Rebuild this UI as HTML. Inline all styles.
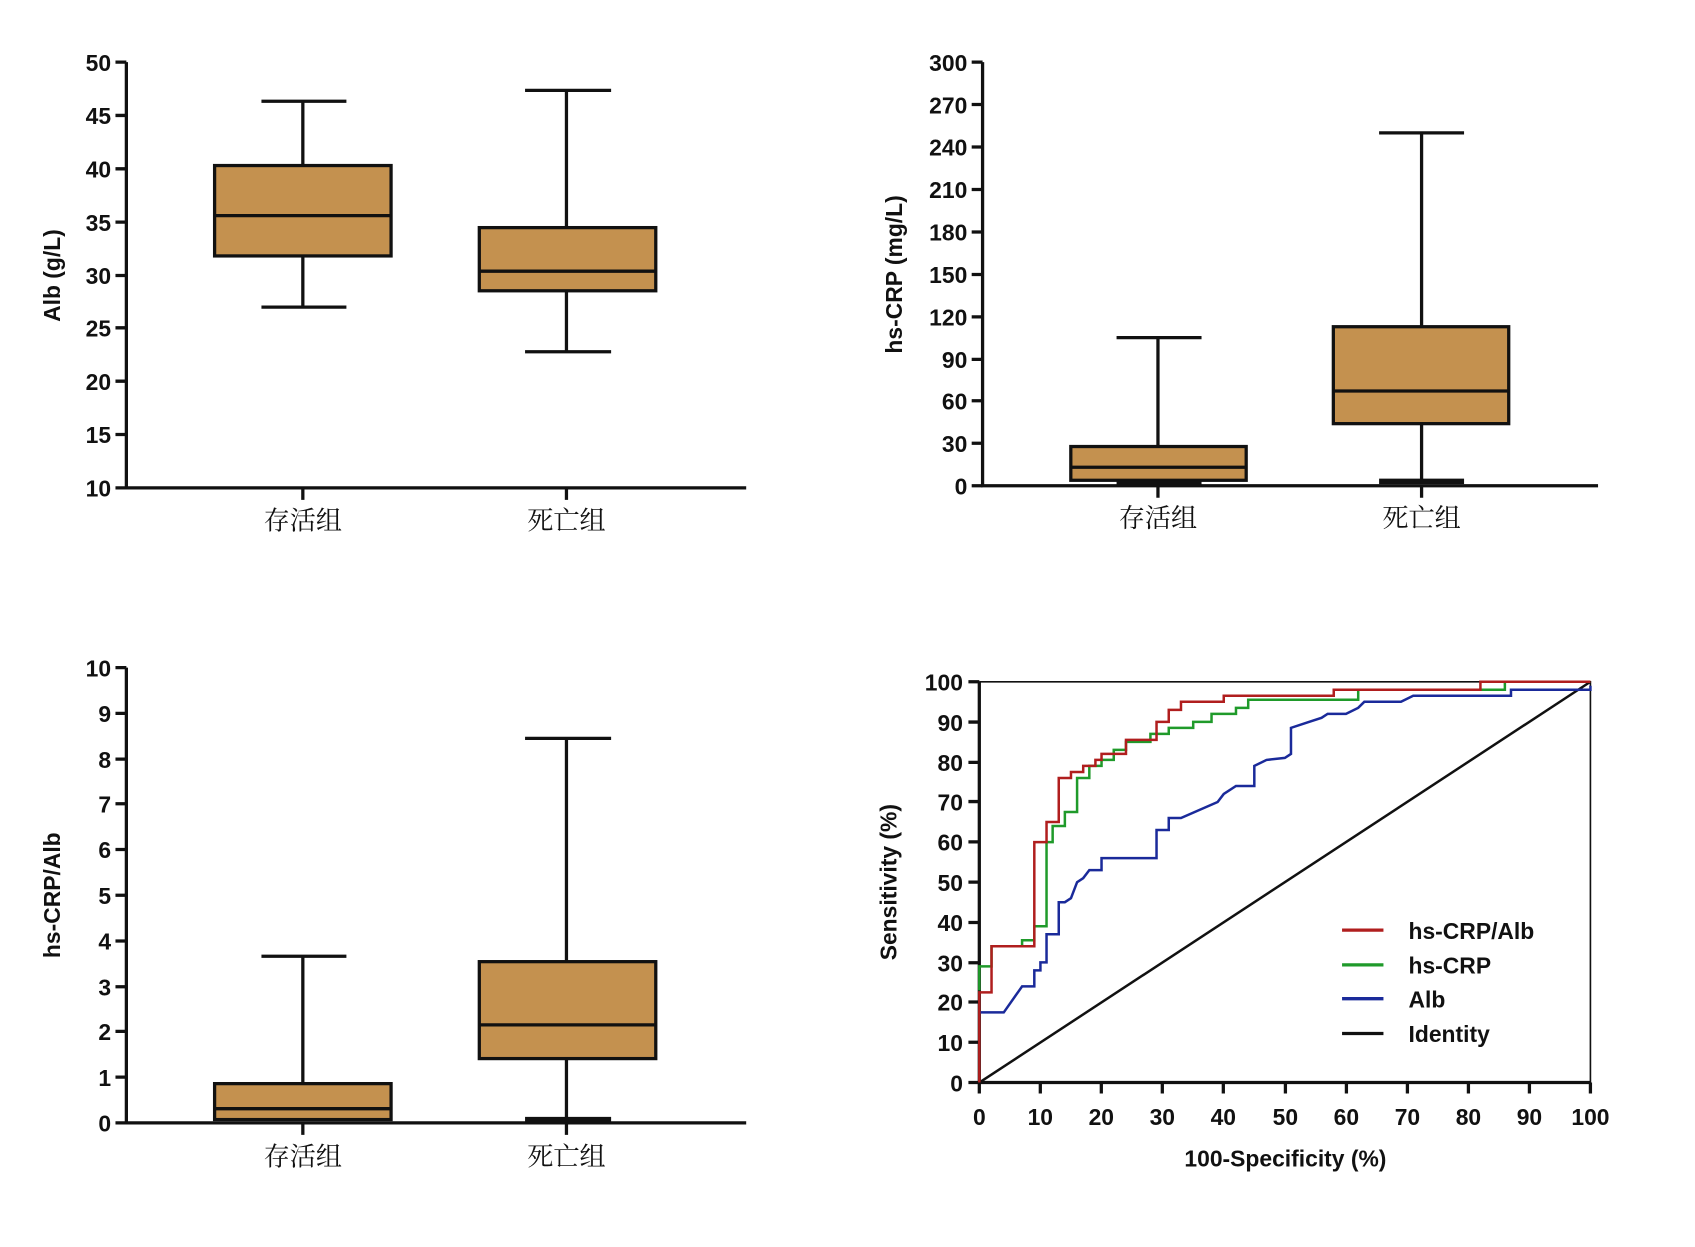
<!DOCTYPE html>
<html><head><meta charset="utf-8"><style>
html,body{margin:0;padding:0;background:#fff;}
svg{display:block;}
.t{font-family:"Liberation Sans",Arial,sans-serif;font-weight:bold;font-size:21px;fill:#111;}
.c{font-family:"Liberation Serif","Noto Serif CJK SC",serif;font-size:24px;fill:#111;}
</style></head><body>
<svg width="1695" height="1247" viewBox="0 0 1556 1145" preserveAspectRatio="none" xmlns="http://www.w3.org/2000/svg">
<rect width="1556" height="1145" fill="#fff"/>
<g stroke="#111" stroke-width="3" fill="none">
<!-- Panel 1 -->
<path d="M116,57V448H685"/>
<path d="M106,57H116M106,106H116M106,155H116M106,204H116M106,253H116M106,301H116M106,350H116M106,399H116M106,448H116"/>
<path d="M278,448V459M520,448V459"/>
<path d="M278,93V152M278,235V282M240,93H318M240,282H318"/>
<rect x="197" y="152" width="162" height="83" fill="#c4914f"/><path d="M197,198H359"/>
<path d="M520,83V209M520,267V323M482,83H561M482,323H561"/>
<rect x="440" y="209" width="162" height="58" fill="#c4914f"/><path d="M440,249H602"/>
<!-- Panel 2 -->
<path d="M902,57V446H1467"/>
<path d="M892,57H902M892,96H902M892,135H902M892,174H902M892,213H902M892,252H902M892,291H902M892,330H902M892,368H902M892,407H902M892,446H902"/>
<path d="M1063,446V457M1305,446V457"/>
<path d="M1063,310V410M1025,310H1103"/>
<rect x="983" y="410" width="161" height="31" fill="#c4914f"/><path d="M983,429H1144"/>
<path d="M1025,444H1103" stroke-width="5"/>
<path d="M1305,122V300M1305,389V442M1266,122H1344"/>
<path d="M1266,442H1344" stroke-width="5"/>
<rect x="1224" y="300" width="161" height="89" fill="#c4914f"/><path d="M1224,359H1385"/>
<!-- Panel 3 -->
<path d="M116,613V1031H685"/>
<path d="M106,613H116M106,655H116M106,697H116M106,738H116M106,780H116M106,822H116M106,864H116M106,906H116M106,947H116M106,989H116M106,1031H116"/>
<path d="M278,1031V1042M520,1031V1042"/>
<path d="M278,878V995M240,878H318"/>
<rect x="197" y="995" width="162" height="33" fill="#c4914f"/><path d="M197,1018H359"/>
<path d="M520,678V883M520,972V1027M482,678H561"/>
<path d="M482,1028H561" stroke-width="5"/>
<rect x="440" y="883" width="162" height="89" fill="#c4914f"/><path d="M440,941H602"/>
<!-- Panel 4 -->
<path d="M899,626V994H1460"/>
<path d="M899,626H1460V994" stroke-width="1.5"/>
<path d="M889,626H899M889,663H899M889,700H899M889,736H899M889,773H899M889,810H899M889,847H899M889,884H899M889,920H899M889,957H899M889,994H899"/>
<path d="M899,994V1004M955,994V1004M1011,994V1004M1067,994V1004M1123,994V1004M1180,994V1004M1236,994V1004M1292,994V1004M1348,994V1004M1404,994V1004M1460,994V1004"/>
</g>
<g transform="translate(899,994) scale(5.61,-3.68)" fill="none" stroke-width="2.5">
<polyline vector-effect="non-scaling-stroke" stroke="#111" points="0,0 100,100"/>
<polyline vector-effect="non-scaling-stroke" stroke="#1a2a9a" points="0,17.5 4,17.5 7,24 9,24 9,28 10,28 10,30 11,30 11,37 13,37 13,45 14,45 15,46 16,50 17,51 18,53 20,53 20,56 29,56 29,63 31,63 31,66 33,66 36,68 39,70 40,72 42,74 45,74 45,79 47,80.5 50,81 51,82 51,88.5 54,90 56,91 57,92 60,92 62,93.5 63,95 69,95 71,96.5 87,96.5 87,98 100,98 100,99"/>
<polyline vector-effect="non-scaling-stroke" stroke="#1f9a2a" points="0,23 0,29 2,29 2,34 7,34 7,35.5 9,35.5 9,39 11,39 11,60 12,60 12,64 14,64 14,67.5 16,67.5 16,76 18,76 18,79 20,79 20,80.5 22,80.5 22,83 24,83 24,85 28,85 28,87 31,87 31,88.5 35,88.5 35,90 38,90 38,92 42,92 42,93.5 44,93.5 44,95.5 62,95.5 62,98 86,98 86,100 100,100"/>
<polyline vector-effect="non-scaling-stroke" stroke="#b01e1e" points="0,0 0,22.5 2,22.5 2,34 9,34 9,60 11,60 11,65 13,65 13,76 15,76 15,77.5 17,77.5 17,79 19,79 19,80.5 20,80.5 20,82 24,82 24,85.5 29,85.5 29,90 31,90 31,93 33,93 33,95 40,95 40,96.5 58,96.5 58,98 82,98 82,100 100,100"/>
</g>
<g stroke-width="3">
<path d="M1232,854H1270" stroke="#b01e1e"/>
<path d="M1232,886H1270" stroke="#1f9a2a"/>
<path d="M1232,917H1270" stroke="#1a2a9a"/>
<path d="M1232,949H1270" stroke="#111"/>
</g>
<g class="t">
<text x="1293" y="862">hs-CRP/Alb</text>
<text x="1293" y="894">hs-CRP</text>
<text x="1293" y="925">Alb</text>
<text x="1293" y="957">Identity</text>
</g>
<g class="t" text-anchor="end">
<text x="102" y="65">50</text><text x="102" y="114">45</text><text x="102" y="163">40</text><text x="102" y="212">35</text><text x="102" y="261">30</text><text x="102" y="309">25</text><text x="102" y="358">20</text><text x="102" y="407">15</text><text x="102" y="456">10</text>
<text x="888" y="65">300</text><text x="888" y="104">270</text><text x="888" y="143">240</text><text x="888" y="182">210</text><text x="888" y="221">180</text><text x="888" y="260">150</text><text x="888" y="299">120</text><text x="888" y="338">90</text><text x="888" y="376">60</text><text x="888" y="415">30</text><text x="888" y="454">0</text>
<text x="102" y="621">10</text><text x="102" y="663">9</text><text x="102" y="705">8</text><text x="102" y="746">7</text><text x="102" y="788">6</text><text x="102" y="830">5</text><text x="102" y="872">4</text><text x="102" y="914">3</text><text x="102" y="955">2</text><text x="102" y="997">1</text><text x="102" y="1039">0</text>
<text x="884" y="634">100</text><text x="884" y="671">90</text><text x="884" y="708">80</text><text x="884" y="744">70</text><text x="884" y="781">60</text><text x="884" y="818">50</text><text x="884" y="855">40</text><text x="884" y="892">30</text><text x="884" y="928">20</text><text x="884" y="965">10</text><text x="884" y="1002">0</text>
</g>
<g class="t" text-anchor="middle">
<text x="899" y="1033">0</text><text x="955" y="1033">10</text><text x="1011" y="1033">20</text><text x="1067" y="1033">30</text><text x="1123" y="1033">40</text><text x="1180" y="1033">50</text><text x="1236" y="1033">60</text><text x="1292" y="1033">70</text><text x="1348" y="1033">80</text><text x="1404" y="1033">90</text><text x="1460" y="1033">100</text>
<text x="1180" y="1071">100-Specificity (%)</text>
<text transform="translate(55,253) rotate(-90)">Alb (g/L)</text>
<text transform="translate(828,252) rotate(-90)">hs-CRP (mg/L)</text>
<text transform="translate(55,822) rotate(-90)">hs-CRP/Alb</text>
<text transform="translate(823,810) rotate(-90)">Sensitivity (%)</text>
</g>
<g class="c" text-anchor="middle">
<text x="278" y="486">存活组</text><text x="520" y="486">死亡组</text>
<text x="1063" y="484">存活组</text><text x="1305" y="484">死亡组</text>
<text x="278" y="1070">存活组</text><text x="520" y="1070">死亡组</text>
</g>
</svg>
</body></html>
